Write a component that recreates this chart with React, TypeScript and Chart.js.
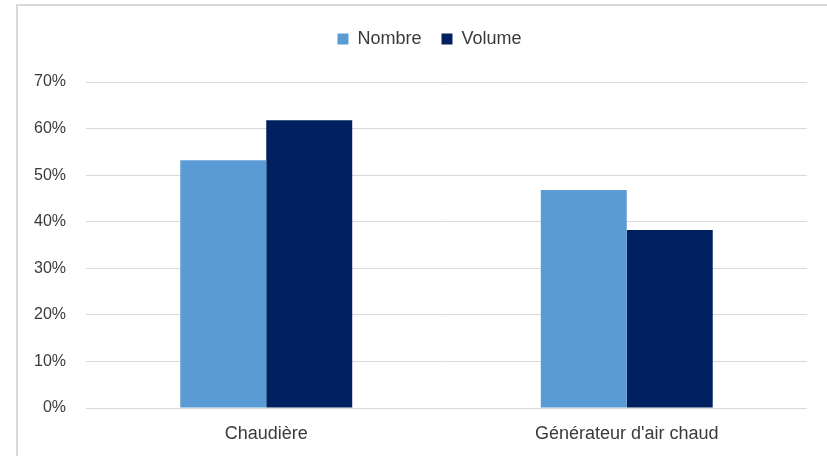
import React, { useEffect, useRef } from "react";
import { Chart, registerables } from "chart.js";

Chart.register(...registerables);

const categories = ["Chaudière", "Générateur d'air chaud"];
const nombreValues = [53.2, 46.8];
const volumeValues = [61.8, 38.2];
const seriesLabels = ["Nombre", "Volume"];

const FONT = "'Liberation Sans', Arial, sans-serif";
const TEXT = "#3a3a3a";

const legendShift = {
  id: "legendShift",
  afterLayout(chart: any) {
    const lg = chart.legend;
    if (lg) {
      lg.left += 26;
      lg.right += 26;
    }
  },
};

export default function App() {
  const ref = useRef<HTMLCanvasElement | null>(null);

  useEffect(() => {
    document.body.style.margin = "0";
    const canvas = ref.current;
    if (!canvas) return;
    const chart = new Chart(canvas, {
      type: "bar",
      data: {
        labels: categories,
        datasets: [
          {
            label: seriesLabels[0],
            data: nombreValues,
            backgroundColor: "#5b9bd5",
            borderWidth: 0,
          },
          {
            label: seriesLabels[1],
            data: volumeValues,
            backgroundColor: "#002060",
            borderWidth: 0,
          },
        ],
      },
      plugins: [legendShift],
      options: {
        animation: false,
        responsive: false,
        maintainAspectRatio: false,
        layout: { padding: { left: 0, right: 20, top: 10, bottom: 0 } },
        datasets: {
          bar: { barPercentage: 1, categoryPercentage: 0.477 },
        },
        plugins: {
          legend: {
            position: "top",
            labels: {
              boxWidth: 11,
              boxHeight: 11,
              padding: 20,
              color: TEXT,
              font: { family: FONT, size: 18 },
            },
          },
          title: {
            display: true,
            text: "",
            position: "top",
            weight: 500,
            font: { size: 10 },
            padding: { top: 0, bottom: 12 },
          } as any,
          tooltip: { enabled: false },
        },
        scales: {
          x: {
            grid: { display: false, drawTicks: false },
            border: { display: false },
            ticks: {
              color: TEXT,
              padding: 15,
              font: { family: FONT, size: 18 },
            },
            afterFit: (s: any) => {
              s.height = 48;
            },
          },
          y: {
            min: 0,
            max: 70,
            grid: { color: "#d9d9d9", lineWidth: 1, drawTicks: false },
            border: { display: false },
            ticks: {
              stepSize: 10,
              color: TEXT,
              padding: 20,
              font: { family: FONT, size: 16 },
              callback: (v: any) => `${v}%`,
            },
            afterFit: (s: any) => {
              s.width = 86;
            },
          },
        },
      },
    });
    return () => chart.destroy();
  }, []);

  return (
    <div
      style={{
        position: "relative",
        width: 827,
        height: 456,
        overflow: "hidden",
        background: "#ffffff",
      }}
    >
      <div
        style={{
          position: "absolute",
          left: 16,
          top: 4,
          width: 900,
          height: 600,
          border: "2px solid #d9d9d9",
          boxSizing: "border-box",
        }}
      />
      <canvas
        ref={ref}
        width={827}
        height={456}
        style={{ position: "absolute", left: 0, top: 0, width: 827, height: 456 }}
      />
    </div>
  );
}
